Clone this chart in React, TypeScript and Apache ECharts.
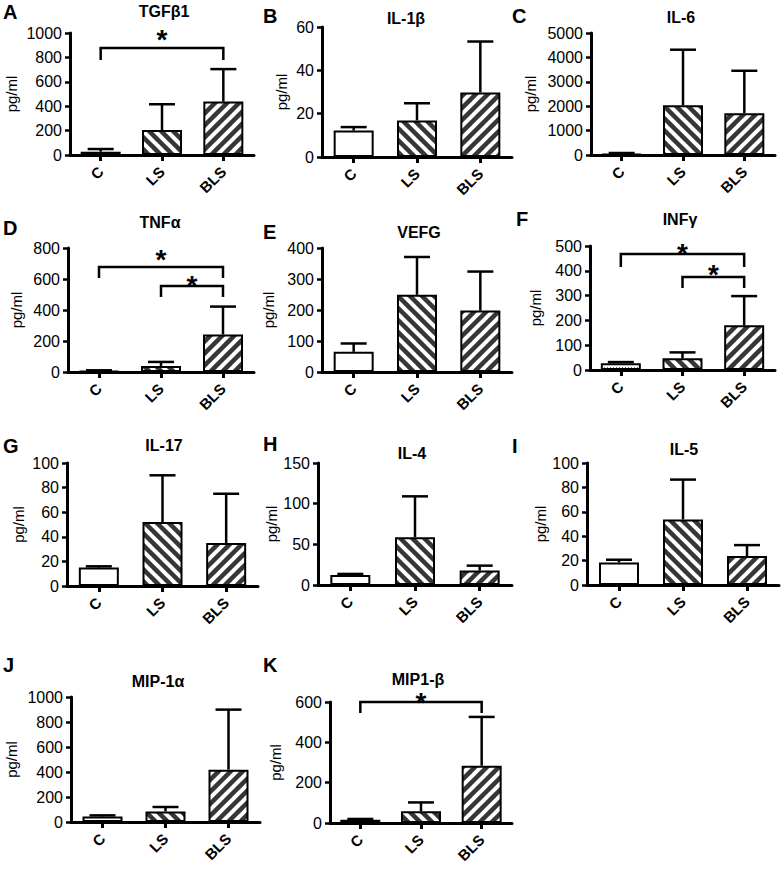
import React, { useEffect, useRef } from 'react';
import * as echarts from 'echarts';

const categories = ['C', 'LS', 'BLS'];

const panelLetters = ['A', 'B', 'C', 'D', 'E', 'F', 'G', 'H', 'I', 'J', 'K'];
const panelTitles = ['TGFβ1', 'IL-1β', 'IL-6', 'TNFα', 'VEFG', 'INFγ', 'IL-17', 'IL-4', 'IL-5', 'MIP-1α', 'MIP1-β'];
const yMaxes = [1000, 60, 5000, 800, 400, 500, 100, 150, 100, 1000, 600];
const yIntervals = [200, 20, 1000, 200, 100, 100, 20, 50, 20, 200, 200];

// means and upper error-bar ends (mean + SD) for C, LS, BLS
const meanTGFb1 = [27, 205, 438];
const errTGFb1 = [49, 416, 704];
const meanIL1b = [12.2, 16.9, 29.8];
const errIL1b = [13.8, 24.8, 53.3];
const meanIL6 = [41, 2041, 1712];
const errIL6 = [82, 4315, 3452];
const meanTNFa = [6, 39, 242];
const errTNFa = [11, 65, 422];
const meanVEFG = [65, 249, 198];
const errVEFG = [92, 371, 324];
const meanINFg = [27, 47, 180];
const errINFg = [32, 71, 298];
const meanIL17 = [15, 52, 35];
const errIL17 = [16, 90, 75];
const meanIL4 = [12.3, 58.8, 17.7];
const errIL4 = [13.6, 109, 23.8];
const meanIL5 = [18.5, 53.7, 23.7];
const errIL5 = [20.7, 86.4, 32.7];
const meanMIP1a = [45, 85, 419];
const errMIP1a = [53, 120, 899];
const meanMIP1b = [16, 58, 284];
const errMIP1b = [20, 102, 526];

// significance brackets: [fromIndex, toIndex, bracketLevel, dropLevel, starLevel]
const bracketsTGFb1 = [[0, 2, 877, 779, 1008]];
const bracketsTNFa = [[0, 2, 677, 606, 774], [1, 2, 555, 484, 606]];
const bracketsINFg = [[0, 2, 468, 415, 500], [1, 2, 375, 331, 415]];
const bracketsMIP1b = [[0, 2, 600, 545, 635]];

const panelMeans = [meanTGFb1, meanIL1b, meanIL6, meanTNFa, meanVEFG, meanINFg, meanIL17, meanIL4, meanIL5, meanMIP1a, meanMIP1b];
const panelErrs = [errTGFb1, errIL1b, errIL6, errTNFa, errVEFG, errINFg, errIL17, errIL4, errIL5, errMIP1a, errMIP1b];
const panelBrackets: number[][][] = [bracketsTGFb1, [], [], bracketsTNFa, [], bracketsINFg, [], [], [], [], bracketsMIP1b];

// layout (pixels): grid [left, top, width, height]
const gridBoxes = [
  [70, 33, 184, 122],
  [322, 27, 190, 130],
  [591, 33, 184, 122],
  [68, 248, 186, 124],
  [322, 248, 190, 124],
  [590, 246, 185, 124],
  [67, 463, 191, 123],
  [318, 463, 194, 122],
  [587, 463, 192, 122],
  [71, 697, 189, 125],
  [330, 702, 182, 121],
];
const nameGaps = [51, 33, 53, 44, 46, 47, 41, 34, 38, 52, 47];
const titlePos = [
  [164, 11], [406, 18], [681, 17],
  [160, 222], [419, 232], [680, 219],
  [164, 445], [412, 453], [684, 449],
  [158, 681], [418, 679],
];
const letterPos = [
  [3, 2], [263, 6], [512, 6],
  [3, 218], [263, 222], [516, 209],
  [3, 436], [263, 434], [512, 436],
  [3, 655], [263, 655],
];

const FONT = '"Liberation Sans", Arial, Helvetica, sans-serif';
const DARK = '#363636';

function makeHatch(dir: number): HTMLCanvasElement {
  const P = 12;
  const c = document.createElement('canvas');
  c.width = P;
  c.height = P;
  const ctx = c.getContext('2d') as CanvasRenderingContext2D;
  ctx.fillStyle = DARK;
  ctx.fillRect(0, 0, P, P);
  ctx.strokeStyle = '#ffffff';
  ctx.lineWidth = 4;
  for (const off of [-P, 0, P]) {
    ctx.beginPath();
    if (dir === 1) {
      ctx.moveTo(off - 3, -3);
      ctx.lineTo(off + P + 3, P + 3);
    } else {
      ctx.moveTo(off - 3, P + 3);
      ctx.lineTo(off + P + 3, -3);
    }
    ctx.stroke();
  }
  return c;
}

function makeDots(): HTMLCanvasElement {
  const c = document.createElement('canvas');
  c.width = 3;
  c.height = 3;
  const ctx = c.getContext('2d') as CanvasRenderingContext2D;
  ctx.fillStyle = '#ffffff';
  ctx.fillRect(0, 0, 3, 3);
  ctx.fillStyle = 'rgba(0,0,0,0.55)';
  ctx.fillRect(1, 1, 1, 1);
  return c;
}

export default function App() {
  const ref = useRef<HTMLDivElement>(null);

  useEffect(() => {
    if (!ref.current) return;
    const chart = echarts.init(ref.current, null, { renderer: 'svg' });

    const hatchBack = makeHatch(1);
    const hatchFwd = makeHatch(-1);
    const dots = makeDots();

    const barStyle = (panel: number, idx: number) => {
      if (idx === 0) {
        if (panel === 5) {
          return { color: { image: dots, repeat: 'repeat' }, borderColor: '#000', borderWidth: 2 };
        }
        return { color: '#ffffff', borderColor: '#000', borderWidth: 2 };
      }
      return {
        color: { image: idx === 1 ? hatchBack : hatchFwd, repeat: 'repeat' },
        borderColor: '#000',
        borderWidth: 2,
      };
    };

    const grid: any[] = [];
    const xAxis: any[] = [];
    const yAxis: any[] = [];
    const series: any[] = [];
    const graphic: any[] = [];

    for (let p = 0; p < 11; p++) {
      const [l, t, w, h] = gridBoxes[p];
      grid.push({ left: l, top: t, width: w, height: h, containLabel: false });
      xAxis.push({
        type: 'category',
        gridIndex: p,
        data: categories,
        axisLine: { show: true, lineStyle: { color: '#000', width: 3 } },
        axisTick: { show: true, alignWithLabel: true, length: 6, lineStyle: { color: '#000', width: 3 } },
        axisLabel: {
          rotate: 45,
          margin: 14,
          color: '#000',
          fontSize: 15,
          fontWeight: 'bold',
          fontFamily: FONT,
        },
        splitLine: { show: false },
      });
      yAxis.push({
        type: 'value',
        gridIndex: p,
        min: 0,
        max: yMaxes[p],
        interval: yIntervals[p],
        name: 'pg/ml',
        nameLocation: 'middle',
        nameGap: nameGaps[p],
        nameTextStyle: { color: '#000', fontSize: 15, fontFamily: FONT },
        axisLine: { show: true, lineStyle: { color: '#000', width: 3 } },
        axisTick: { show: true, length: 5, lineStyle: { color: '#000', width: 2.5 } },
        axisLabel: {
          color: '#000',
          fontSize: 16,
          fontFamily: FONT,
          margin: 8,
          formatter: (v: number) => String(v),
        },
        splitLine: { show: false },
      });

      const means = panelMeans[p];
      const errs = panelErrs[p];
      series.push({
        type: 'bar',
        xAxisIndex: p,
        yAxisIndex: p,
        barWidth: 40,
        data: means.map((v, i) => ({ value: v, itemStyle: barStyle(p, i) })),
        z: 2,
      });
      series.push({
        type: 'custom',
        xAxisIndex: p,
        yAxisIndex: p,
        z: 3,
        encode: { x: 0, y: [1, 2] },
        data: means.map((v, i) => [i, v, errs[i]]),
        renderItem: (params: any, api: any) => {
          const x = api.value(0);
          const base = api.coord([x, api.value(1)]);
          const top = api.coord([x, api.value(2)]);
          const half = 13;
          return {
            type: 'group',
            children: [
              { type: 'line', shape: { x1: top[0], y1: base[1], x2: top[0], y2: top[1] }, style: { stroke: '#000', lineWidth: 2.5 } },
              { type: 'line', shape: { x1: top[0] - half, y1: top[1], x2: top[0] + half, y2: top[1] }, style: { stroke: '#000', lineWidth: 2.5 } },
            ],
          };
        },
      });
      if (panelBrackets[p].length) {
        series.push({
          type: 'custom',
          xAxisIndex: p,
          yAxisIndex: p,
          z: 4,
          clip: false,
          encode: { x: [0, 1], y: [2, 3, 4] },
          data: panelBrackets[p],
          renderItem: (params: any, api: any) => {
            const a = api.coord([api.value(0), api.value(2)]);
            const b = api.coord([api.value(1), api.value(2)]);
            const ad = api.coord([api.value(0), api.value(3)]);
            const bd = api.coord([api.value(1), api.value(3)]);
            const s = api.coord([api.value(1), api.value(4)]);
            const fs = 28;
            return {
              type: 'group',
              children: [
                {
                  type: 'polyline',
                  shape: { points: [[ad[0], ad[1]], [a[0], a[1]], [b[0], b[1]], [bd[0], bd[1]]] },
                  style: { stroke: '#000', lineWidth: 2.5, fill: 'none' },
                },
                {
                  type: 'text',
                  x: (a[0] + b[0]) / 2,
                  y: s[1] + fs * 0.27,
                  style: {
                    text: '*',
                    fontSize: fs,
                    fontWeight: 'bold',
                    fontFamily: FONT,
                    fill: '#000',
                    align: 'center',
                    verticalAlign: 'middle',
                  },
                },
              ],
            };
          },
        });
      }

      graphic.push({
        type: 'text',
        x: titlePos[p][0],
        y: titlePos[p][1],
        style: {
          text: panelTitles[p],
          fontSize: 16,
          fontWeight: 'bold',
          fontFamily: FONT,
          fill: '#000',
          align: 'center',
          verticalAlign: 'middle',
        },
      });
      graphic.push({
        type: 'text',
        x: letterPos[p][0],
        y: letterPos[p][1],
        style: {
          text: panelLetters[p],
          fontSize: 20,
          fontWeight: 'bold',
          fontFamily: FONT,
          fill: '#000',
          align: 'left',
          verticalAlign: 'top',
        },
      });
    }

    chart.setOption({
      animation: false,
      backgroundColor: '#ffffff',
      grid,
      xAxis,
      yAxis,
      series,
      graphic,
    });

    return () => {
      chart.dispose();
    };
  }, []);

  return (
    <div
      ref={ref}
      style={{ position: 'absolute', left: 0, top: 0, width: 782, height: 870, background: '#fff' }}
    />
  );
}
